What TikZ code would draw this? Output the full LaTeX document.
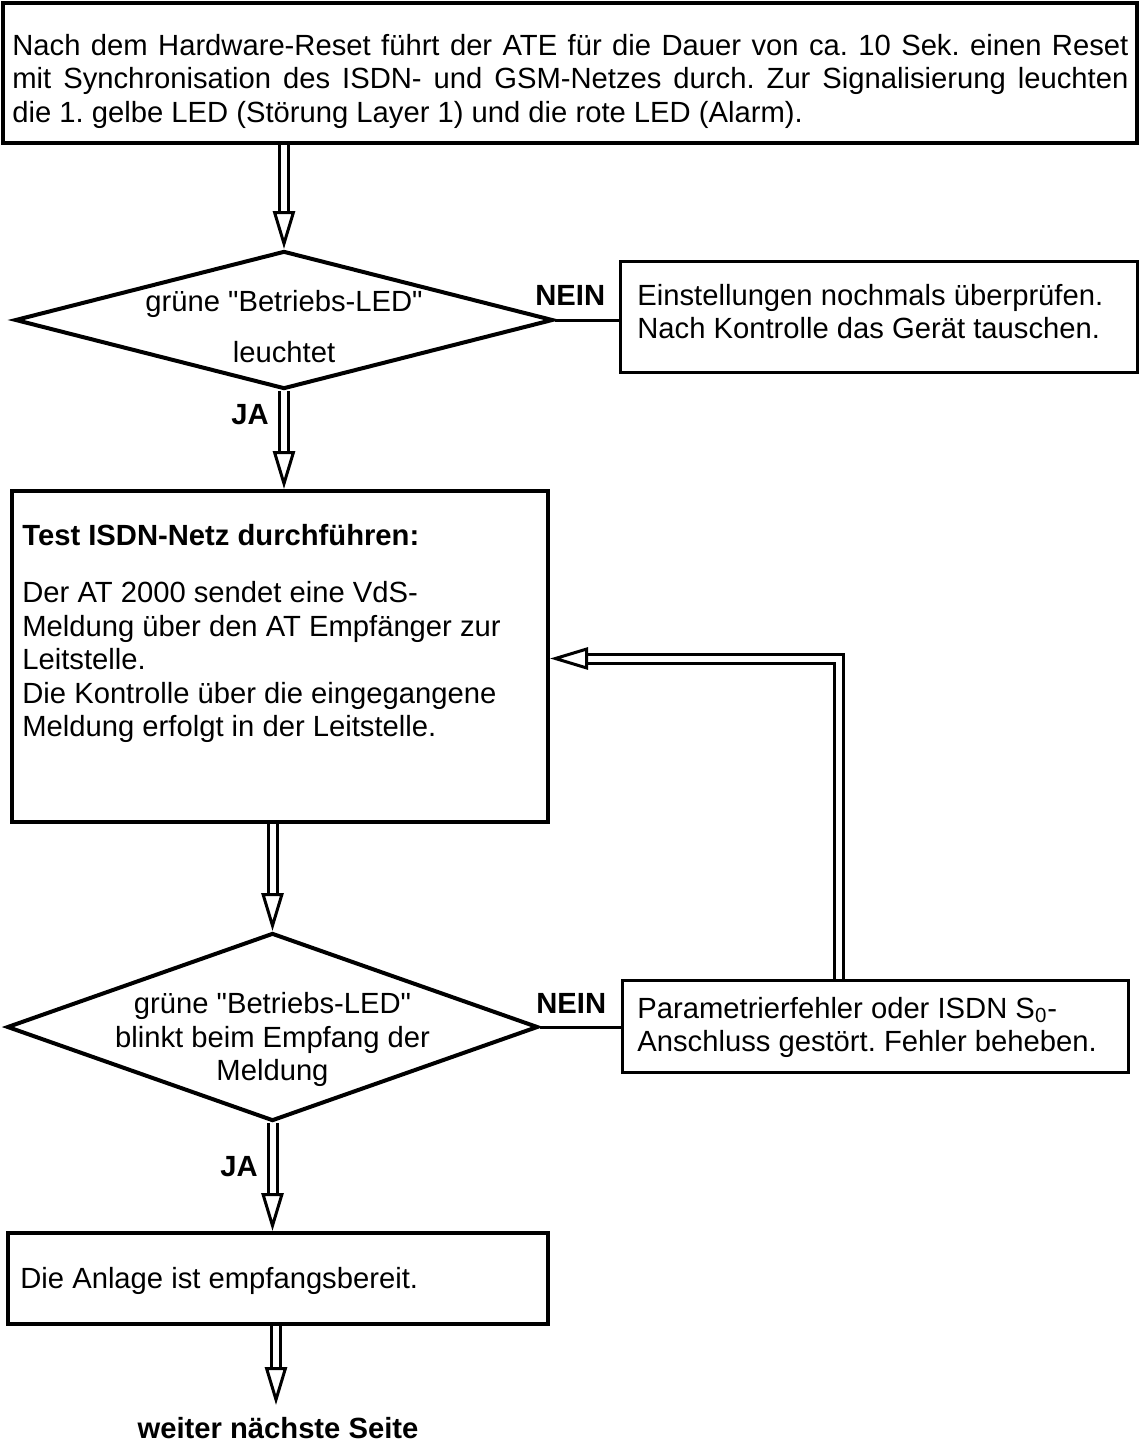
\documentclass[tikz,border=0pt]{standalone}
\usepackage{fontspec}
\setmainfont{Liberation Sans}
\usetikzlibrary{arrows.meta,shapes.geometric}
\newcommand\bodyfont{\fontsize{14.6pt}{16.8pt}\selectfont}
% straight double quote, set as a glyph so the font mapping leaves it alone
\newcommand\dq{\XeTeXglyph\XeTeXcharglyph"22\relax}
% hollow flow arrow: double shaft plus an open triangular head
\newcommand\hollowarrow[1]{\draw[shaft] #1; \draw[head] #1;}
\frenchspacing

\begin{document}
\begin{tikzpicture}[x=0.5pt,y=-0.5pt,
  box/.style={draw, line width=2pt, rectangle, inner sep=0pt},
  thinbox/.style={draw, line width=1.5pt, rectangle, inner sep=0pt},
  decision/.style={draw, line width=2pt, diamond, inner sep=0pt},
  txt/.style={inner sep=0pt, anchor=north west, align=left, font=\bodyfont},
  ctxt/.style={inner sep=0pt, anchor=north, align=center, font=\bodyfont},
  lbl/.style={inner sep=0pt, anchor=base west, font=\bodyfont\bfseries},
  shaft/.style={draw, line width=1.5pt, double, double distance=3pt, shorten >=19pt},
  head/.style={draw=white, line width=0.1pt,
    -{Triangle[length=19pt, width=11pt, line width=1.5pt, fill=white, color=black]}},
  link/.style={draw, line width=1.5pt}
]
\useasboundingbox (0,0) rectangle (1140,1445);

% reset box
\node[box, minimum width=567pt, minimum height=70pt] (reset) at (570,73) {};
\node[txt] (resettxt) at (12,33.5)
  {\makebox[558pt][s]{Nach dem Hardware-Reset führt der ATE für die Dauer von ca. 10 Sek. einen Reset}\\
   \makebox[558pt][s]{mit Synchronisation des ISDN- und GSM-Netzes durch. Zur Signalisierung leuchten}\\
   die 1. gelbe LED (Störung Layer 1) und die rote LED (Alarm).};

% first decision
\node[decision, minimum width=269pt, minimum height=69pt] (led1) at (284,320) {};
\node[ctxt] (led1txt) at (284,290) {grüne \dq Betriebs-LED\dq\\[8.5pt]leuchtet};
\node[lbl] (nein1) at (535,305) {NEIN};
\node[thinbox, minimum width=258.5pt, minimum height=55.5pt] (check) at (878.5,316.5) {};
\node[txt] (checktxt) at (637,283.5)
  {Einstellungen nochmals überprüfen.\\Nach Kontrolle das Gerät tauschen.};
\draw[link] (led1.east) -- (check.west |- led1.east);
\node[lbl] (ja1) at (231,424) {JA};

% ISDN test
\node[box, minimum width=268pt, minimum height=165.5pt] (test) at (280,656.5) {};
\node[txt, font=\bodyfont\bfseries] (testhead) at (22,524) {Test ISDN-Netz durchführen:};
\node[txt] (testtxt) at (22,581)
  {Der AT 2000 sendet eine VdS-\\Meldung über den AT Empfänger zur\\Leitstelle.\\
   Die Kontrolle über die eingegangene\\Meldung erfolgt in der Leitstelle.};

% second decision
\node[decision, minimum width=265.5pt, minimum height=94pt] (led2) at (272.5,1027) {};
\node[ctxt] (led2txt) at (272.5,992)
  {grüne \dq Betriebs-LED\dq\\blinkt beim Empfang der\\Meldung};
\node[lbl] (nein2) at (536,1013) {NEIN};
\node[thinbox, minimum width=253pt, minimum height=46pt] (param) at (875,1026) {};
\node[txt] (paramtxt) at (637,996.5)
  {Parametrierfehler oder ISDN S\textsubscript{0}-\\Anschluss gestört. Fehler beheben.};
\draw[link] (led2.east) -- (param.west |- led2.east);
\node[lbl] (ja2) at (220,1176) {JA};

% ready box
\node[box, minimum width=270pt, minimum height=45.5pt] (ready) at (278,1278.5) {};
\node[txt] (readytxt) at (20,1266.5) {Die Anlage ist empfangsbereit.};
\node[inner sep=0pt, anchor=base, font=\bodyfont\bfseries] (weiter) at (278,1438)
  {weiter nächste Seite};

% flow arrows
\coordinate (retbend) at (838.5,658.5);
\coordinate (next) at (276,1405);
\hollowarrow{(reset.south -| led1.north) -- (led1.north)}
\hollowarrow{(led1.south) -- (led1.south |- test.north)}
\hollowarrow{(test.south -| led2.north) -- (led2.north)}
\hollowarrow{(led2.south) -- (led2.south |- ready.north)}
\hollowarrow{(ready.south -| next) -- (next)}
\hollowarrow{(retbend |- param.north) -- (retbend) -- (retbend -| test.east)}
\end{tikzpicture}
\end{document}
